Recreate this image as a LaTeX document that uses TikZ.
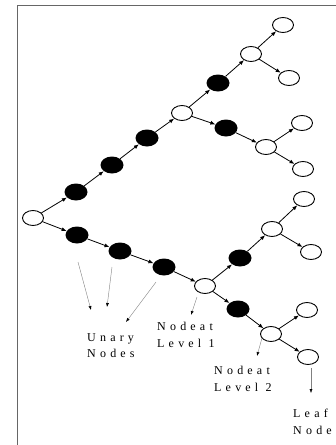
\documentclass[tikz,border=0pt]{standalone}
\usepackage{fontspec}
\setmainfont{Liberation Serif}
\newfontfamily\spacedfont[LetterSpace=35]{Liberation Serif}
\usetikzlibrary{shapes.geometric,arrows.meta}
\tikzset{
    wnode/.style={ellipse, draw, line width=0.9pt, fill=white, minimum width=21pt, minimum height=15pt, inner sep=0pt},
    bnode/.style={ellipse, fill=black, minimum width=23pt, minimum height=17pt, inner sep=0pt},
    edge/.style={line width=0.8pt, -{Latex[length=5pt,width=4pt]}},
    pointer/.style={gray, line width=0.4pt, -{Latex[length=4pt,width=3pt,fill=black,color=black]}},
    caption/.style={anchor=north west, inner sep=0pt, align=left, font=\spacedfont\fontsize{12}{16.7}\selectfont}
}
\begin{document}
\begin{tikzpicture}[x=1pt, y=-1pt]
    \useasboundingbox (0,0) rectangle (336,445);
    \draw[gray!80!black, line width=0.8pt] (17,445) -- (17,5) -- (340,5);

    \node[wnode] (r) at (33,218) {};
    \node[bnode] (u1) at (76,192) {};
    \node[bnode] (u2) at (112,165) {};
    \node[bnode] (u3) at (147,138) {};
    \node[wnode] (a) at (182,113) {};
    \node[bnode] (u4) at (218,83) {};
    \node[wnode] (b) at (251,54) {};
    \node[wnode] (b1) at (283,25) {};
    \node[wnode] (b2) at (289,78) {};
    \node[bnode] (u5) at (226,128) {};
    \node[wnode] (c) at (266,147) {};
    \node[wnode] (c1) at (302,123) {};
    \node[wnode] (c2) at (303,169) {};

    \node[bnode] (l1) at (77,235) {};
    \node[bnode] (l2) at (120,251) {};
    \node[bnode] (l3) at (164,267) {};
    \node[wnode] (d) at (205,286) {};
    \node[bnode] (u6) at (240,258) {};
    \node[wnode] (e) at (272,229) {};
    \node[wnode] (e1) at (304,199) {};
    \node[wnode] (e2) at (311,252) {};
    \node[bnode] (u7) at (238,309) {};
    \node[wnode] (f) at (271,334) {};
    \node[wnode] (f1) at (307,310) {};
    \node[wnode] (f2) at (308,357) {};

    \draw[edge] (r) -- (u1);
    \draw[edge] (u1) -- (u2);
    \draw[edge] (u2) -- (u3);
    \draw[edge] (u3) -- (a);
    \draw[edge] (a) -- (u4);
    \draw[edge] (u4) -- (b);
    \draw[edge] (b) -- (b1);
    \draw[edge] (b) -- (b2);
    \draw[edge] (a) -- (u5);
    \draw[edge] (u5) -- (c);
    \draw[edge] (c) -- (c1);
    \draw[edge] (c) -- (c2);

    \draw[edge] (r) -- (l1);
    \draw[edge] (l1) -- (l2);
    \draw[edge] (l2) -- (l3);
    \draw[edge] (l3) -- (d);
    \draw[edge] (d) -- (u6);
    \draw[edge] (u6) -- (e);
    \draw[edge] (e) -- (e1);
    \draw[edge] (e) -- (e2);
    \draw[edge] (d) -- (u7);
    \draw[edge] (u7) -- (f);
    \draw[edge] (f) -- (f1);
    \draw[edge] (f) -- (f2);

    \node[caption] (unary) at (87,333) {Unary\\Nodes};
    \node[caption] (lev1) at (157,322) {Nodeat\\Level 1};
    \node[caption] (lev2) at (214,366) {Nodeat\\Level 2};
    \node[caption] (leaf) at (293,409) {Leaf\\Node};

    \coordinate (p1s) at (78,262);
    \coordinate (p1e) at (91,310);
    \coordinate (p2s) at (112,267);
    \coordinate (p2e) at (107,307);
    \coordinate (p3s) at (156,282);
    \coordinate (p3e) at (126,322);
    \coordinate (p4s) at (197,297);
    \coordinate (p4e) at (191,315);
    \coordinate (p5s) at (262,338);
    \coordinate (p5e) at (257,356);
    \coordinate (p6s) at (311,368);
    \coordinate (p6e) at (311,393);

    \draw[pointer] (p1s) -- (p1e);
    \draw[pointer] (p2s) -- (p2e);
    \draw[pointer] (p3s) -- (p3e);
    \draw[pointer] (p4s) -- (p4e);
    \draw[pointer] (p5s) -- (p5e);
    \draw[pointer] (p6s) -- (p6e);
\end{tikzpicture}
\end{document}
